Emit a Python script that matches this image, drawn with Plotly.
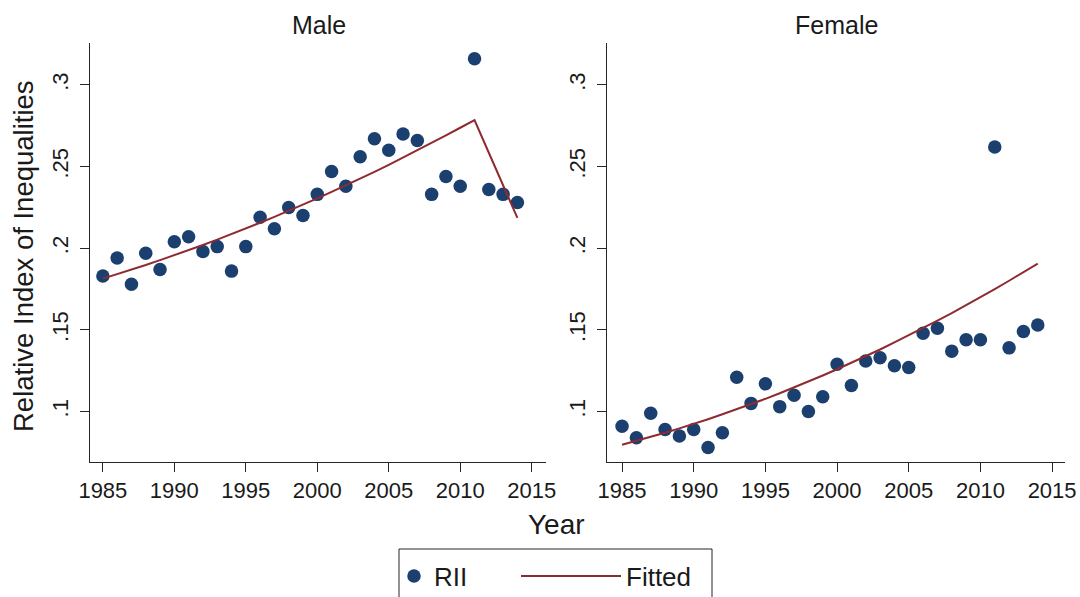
import plotly.graph_objects as go

years = list(range(1985, 2015))

male_rii = [0.183, 0.194, 0.178, 0.197, 0.187, 0.204, 0.207, 0.198, 0.201, 0.186,
            0.201, 0.219, 0.212, 0.225, 0.220, 0.233, 0.247, 0.238, 0.256, 0.267,
            0.260, 0.270, 0.266, 0.233, 0.244, 0.238, 0.316, 0.236, 0.233, 0.228]
male_fit = [0.1814, 0.1841, 0.1869, 0.1897, 0.1927, 0.1957, 0.1988, 0.2020, 0.2053, 0.2086,
            0.2121, 0.2156, 0.2192, 0.2229, 0.2267, 0.2305, 0.2345, 0.2385, 0.2426, 0.2468,
            0.2511, 0.2555, 0.2599, 0.2645, 0.2691, 0.2738, 0.2785, 0.2585, 0.2386, 0.2186]

female_rii = [0.091, 0.084, 0.099, 0.089, 0.085, 0.089, 0.078, 0.087, 0.121, 0.105,
              0.117, 0.103, 0.110, 0.100, 0.109, 0.129, 0.116, 0.131, 0.133, 0.128,
              0.127, 0.148, 0.151, 0.137, 0.144, 0.144, 0.262, 0.139, 0.149, 0.153]
female_fit = [0.0797, 0.0820, 0.0845, 0.0870, 0.0897, 0.0924, 0.0953, 0.0983, 0.1014, 0.1046,
              0.1078, 0.1112, 0.1147, 0.1184, 0.1221, 0.1259, 0.1298, 0.1339, 0.1380, 0.1423,
              0.1466, 0.1511, 0.1557, 0.1603, 0.1651, 0.1700, 0.1750, 0.1801, 0.1853, 0.1906]

x_ticks = [1985, 1990, 1995, 2000, 2005, 2010, 2015]
y_ticks = [0.1, 0.15, 0.2, 0.25, 0.3]
y_ticktext = [".1", ".15", ".2", ".25", ".3"]

NAVY = "#1b3f6e"
MAROON = "#8e2b30"
AXIS = "#262626"
TXT = "#1a1a1a"
FONT = "Liberation Sans, Arial, sans-serif"

W, H = 1080, 597

fig = go.Figure()

fig.add_trace(go.Scatter(x=years, y=male_rii, mode="markers", name="RII",
                         marker=dict(color=NAVY, size=13.5, line=dict(width=0)),
                         xaxis="x", yaxis="y", legend="legend"))
fig.add_trace(go.Scatter(x=years, y=male_fit, mode="lines", name="Fitted",
                         line=dict(color=MAROON, width=2),
                         xaxis="x", yaxis="y", legend="legend2"))
fig.add_trace(go.Scatter(x=years, y=female_rii, mode="markers", name="RII",
                         marker=dict(color=NAVY, size=13.5, line=dict(width=0)),
                         xaxis="x2", yaxis="y2", showlegend=False))
fig.add_trace(go.Scatter(x=years, y=female_fit, mode="lines", name="Fitted",
                         line=dict(color=MAROON, width=2),
                         xaxis="x2", yaxis="y2", showlegend=False))

yrange = [0.0691, 0.3257]
ydom = [1 - 462 / H, 1 - 43 / H]

common_x = dict(tickvals=x_ticks, ticks="outside", ticklen=9, tickwidth=1,
                tickcolor=AXIS, showline=True, linecolor=AXIS, linewidth=1,
                showgrid=False, zeroline=False, automargin=False,
                tickfont=dict(family=FONT, size=22, color=TXT))
common_y = dict(range=yrange, domain=ydom, tickvals=y_ticks, ticktext=y_ticktext,
                ticks="outside", ticklen=9, tickwidth=1, tickcolor=AXIS,
                showline=True, linecolor=AXIS, linewidth=1, showgrid=False,
                zeroline=False, tickangle=-90, automargin=False, ticklabelstandoff=3,
                tickfont=dict(family=FONT, size=22, color=TXT))

legend_common = dict(orientation="h", xanchor="left", y=1 - 576 / H, yanchor="middle",
                     font=dict(family=FONT, size=26, color=TXT),
                     bgcolor="rgba(0,0,0,0)", borderwidth=0)

fig.update_layout(
    width=W, height=H,
    margin=dict(l=0, r=0, t=0, b=0, autoexpand=False),
    paper_bgcolor="white", plot_bgcolor="white",
    font=dict(family=FONT, color=TXT),
    xaxis=dict(domain=[90 / W, 546 / W], range=[1984.1, 2016.0], anchor="y", **common_x),
    yaxis=dict(anchor="x", **common_y),
    xaxis2=dict(domain=[607 / W, 1065 / W], range=[1983.95, 2015.9], anchor="y2", **common_x),
    yaxis2=dict(anchor="x2", **common_y),
    showlegend=True,
    legend=dict(x=394 / W, itemwidth=30, **legend_common),
    legend2=dict(x=516 / W, itemwidth=100, **legend_common),
    annotations=[
        dict(text="Male", x=318.5 / W, y=1 - 25 / H, xref="paper", yref="paper",
             showarrow=False, xanchor="center", yanchor="middle",
             font=dict(family=FONT, size=25, color=TXT)),
        dict(text="Female", x=836 / W, y=1 - 25 / H, xref="paper", yref="paper",
             showarrow=False, xanchor="center", yanchor="middle",
             font=dict(family=FONT, size=25, color=TXT)),
        dict(text="Year", x=556.5 / W, y=1 - 524 / H, xref="paper", yref="paper",
             showarrow=False, xanchor="center", yanchor="middle",
             font=dict(family=FONT, size=28, color=TXT)),
        dict(text="Relative Index of Inequalities", x=23 / W, y=1 - 256 / H,
             xref="paper", yref="paper", showarrow=False, textangle=-90,
             xanchor="center", yanchor="middle",
             font=dict(family=FONT, size=27.5, color=TXT)),
    ],
    shapes=[
        dict(type="rect", xref="paper", yref="paper", x0=399 / W, x1=712 / W,
             y0=-0.1, y1=1 - 549 / H, line=dict(color=AXIS, width=1),
             fillcolor="rgba(0,0,0,0)"),
    ],
)

fig.write_html("out.html")
